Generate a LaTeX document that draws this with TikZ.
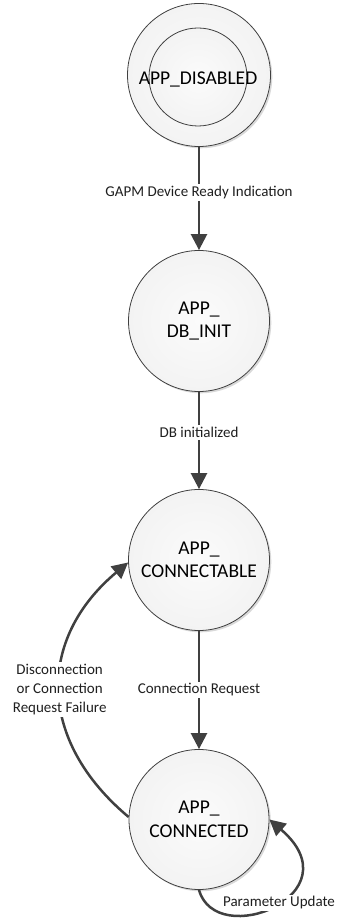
\documentclass[tikz,border=0pt]{standalone}
\usepackage{fontspec}
\setmainfont{Carlito}
\usetikzlibrary{arrows.meta,shadows}
\definecolor{edgegray}{HTML}{404040}
\definecolor{fillin}{HTML}{FBFBFB}
\definecolor{fillout}{HTML}{F3F3F3}
\begin{document}
\begin{tikzpicture}[x=1pt,y=1pt,
  state/.style={circle, draw=edgegray, line width=0.8pt, inner sep=0pt,
    shading=radial, inner color=fillin, outer color=fillout,
    font=\fontsize{19.5}{23.5}\selectfont, align=center, text=black},
  shadowed/.style={drop shadow={shadow xshift=1.8pt, shadow yshift=-1.8pt, opacity=0.15, fill=black}},
  trans/.style={draw=edgegray, line width=2.5pt, -{Triangle[length=16pt,width=16pt]}},
  elabel/.style={fill=white, font=\fontsize{15}{19}\selectfont, text=black!88, align=center, inner sep=2pt}
]
\useasboundingbox (0,0) rectangle (340,919);
\node[state, shadowed, minimum size=143pt] (c1) at (199,844) {};
\node[state, minimum size=98pt] (c1i) at (198,842) {};
\node[font=\fontsize{19.5}{23.5}\selectfont, text=black] (c1t) at (198,840) {APP\_DISABLED};
\node[state, shadowed, minimum size=141pt] (c2) at (199,598) {APP\_\\DB\_INIT};
\node[state, shadowed, minimum size=141pt] (c3) at (199,359) {APP\_\\CONNECTABLE};
\node[state, shadowed, minimum size=140pt] (c4) at (199,99.5) {APP\_\\CONNECTED};

\draw[trans] (c1) -- node[elabel, pos=0.44] (l1) {GAPM Device Ready Indication} (c2);
\draw[trans] (c2) -- node[elabel, pos=0.42] (l2) {DB initialized} (c3);
\draw[trans] (c3) -- node[elabel, pos=0.5] (l3) {Connection Request} (c4);
\draw[trans] (c4.178) to[out=140,in=220,looseness=1.2]
  node[elabel, pos=0.5] (l4) {Disconnection\\or Connection\\Request Failure} (c3.182);
\draw[trans] (c4.-90) .. controls +(17,-61) and +(87,-75) .. (c4.0);
\node[elabel] (pu) at (279,16) {Parameter Update};
\end{tikzpicture}
\end{document}
